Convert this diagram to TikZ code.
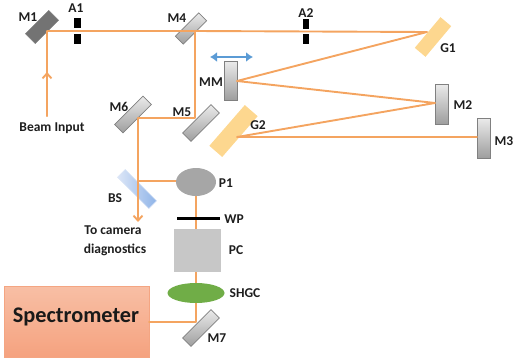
\documentclass[tikz,border=0pt]{standalone}
\usepackage{fontspec}
\setmainfont{Carlito}
\usetikzlibrary{arrows.meta,calc,shapes.geometric}
\definecolor{beam}{HTML}{F4A460}
\definecolor{txt}{HTML}{1E1E1E}
\definecolor{gratingc}{HTML}{FDD78F}
\definecolor{shgc}{HTML}{70AD47}
\definecolor{specb}{HTML}{F4A582}
\definecolor{spect}{HTML}{F8BFA5}
\definecolor{specd}{HTML}{F5A27F}
\definecolor{moveb}{HTML}{5B9BD5}
\definecolor{bsl}{HTML}{DCE6F7}
\definecolor{bsd}{HTML}{8FB4E8}
\tikzset{
  px/.style={x=1pt,y=-1pt},
  lab/.style={font=\fontsize{13.5}{15}\selectfont\bfseries,text=txt,inner sep=0pt,align=center},
  mirror/.style={draw=black!50,line width=0.7pt,top color=black!8,bottom color=black!38,inner sep=0pt,outer sep=0pt},
  grating/.style={fill=gratingc,draw=none,inner sep=0pt,outer sep=0pt},
  stopper/.style={fill=black,draw=none,inner sep=0pt,minimum width=6.5pt,minimum height=10pt},
  ray/.style={draw=beam,line width=1.9pt,line cap=round,line join=round},
  rayarrow/.style={ray,-{Straight Barb[length=5pt,width=9pt,line width=1.9pt]}},
}
\begin{document}
\begin{tikzpicture}[px]
\useasboundingbox (0,0) rectangle (514,359);
% optical elements under the beam
\node[rotate=-45,inner sep=0pt,draw=black!50,fill=black!55,minimum width=14pt,minimum height=33pt] (M1) at (42,27) {};
\node[mirror,rotate=45,minimum width=33pt,minimum height=11pt] (M4) at (191,28.5) {};
\node[mirror,rotate=45,minimum width=40pt,minimum height=12pt] (M6) at (133,114.5) {};
\node[mirror,rotate=45,minimum width=40pt,minimum height=12pt] (M5) at (201,123) {};
\node[mirror,rotate=45,minimum width=40pt,minimum height=12pt] (M7) at (201,328) {};
\node[mirror,minimum width=13pt,minimum height=39pt] (MM) at (230.5,80.5) {};
\node[mirror,minimum width=13pt,minimum height=40pt] (M2) at (442,104) {};
\node[mirror,minimum width=13pt,minimum height=40pt] (M3) at (483.5,138) {};
\node[grating,rotate=50,minimum width=40pt,minimum height=14pt] (G1) at (433,37) {};
\node[grating,rotate=49,minimum width=54pt,minimum height=17pt] (G2) at (233.5,131) {};
\node[rotate=-45,draw=bsl,line width=0.4pt,inner sep=0pt,minimum width=44.5pt,minimum height=11pt,left color=bsl,right color=bsd] (BS) at (137,189) {};
\node[draw=specb,line width=0.8pt,top color=spect,bottom color=specd,minimum width=145pt,minimum height=71pt,inner sep=0pt] (Spec) at (76.5,321.5) {};
\node[font=\fontsize{22.3}{26}\selectfont\bfseries,text=black!90,inner sep=0pt] (SpecT) at (76,317) {Spectrometer};
% beam points
\coordinate (inS) at (47,116);
\coordinate (inA) at (47,72);
\coordinate (pM1) at (47,31);
\coordinate (pM4) at (195,31);
\coordinate (pG1) at (427,32);
\coordinate (pMM) at (237,81);
\coordinate (pM2) at (435,103);
\coordinate (pG2) at (237,137);
\coordinate (pM3) at (477,137);
\coordinate (pM5) at (195,118);
\coordinate (pM6) at (138,118);
\coordinate (pBS) at (138,181);
\coordinate (pP1) at (177,181);
\coordinate (pOut) at (138,222);
\coordinate (pP1b) at (196,196);
\coordinate (pM7) at (196,322);
\coordinate (pSp) at (149,322);
\coordinate (bl) at (210,57);
\coordinate (br) at (253,57);
\coordinate (WPa) at (177,218.5);
\coordinate (WPb) at (220,218.5);
% beams
\draw[ray] (inS) -- (pM1) -- (pM4) -- (pG1) -- (pMM) -- (pM2) -- (pG2) -- (pM3);
\draw[rayarrow] (inS) -- (inA);
\draw[ray] (pM4) -- (pM5) -- (pM6) -- (pBS);
\draw[rayarrow] (pBS) -- (pOut);
\draw[ray] (pBS) -- (pP1);
\draw[ray] (pP1b) -- (pM7) -- (pSp);
% elements above the beam
\node[stopper] (A1a) at (77.5,23) {};
\node[stopper] (A1b) at (77.5,39) {};
\node[stopper] (A2a) at (306,24) {};
\node[stopper] (A2b) at (306,39) {};
\node[ellipse,fill=black!35,inner sep=0pt,minimum width=40pt,minimum height=28pt] (P1) at (196,182) {};
\node[fill=black!22,inner sep=0pt,minimum width=47pt,minimum height=43pt] (PC) at (197.5,250.5) {};
\node[ellipse,fill=shgc,inner sep=0pt,minimum width=57pt,minimum height=20pt] (SHGC) at (196,293) {};
\draw[black,line width=2.6pt] (WPa) -- (WPb);
\draw[{Latex[length=7pt,width=10pt]}-{Latex[length=7pt,width=10pt]},draw=moveb,fill=moveb,line width=2pt] (bl) -- (br);
% labels
\node[lab] (lM1) at (28,17) {M1};
\node[lab] (lA1) at (76,8.5) {A1};
\node[lab] (lM4) at (177,18) {M4};
\node[lab] (lA2) at (306,13) {A2};
\node[lab] (lG1) at (448,48) {G1};
\node[lab] (lMM) at (211,82) {MM};
\node[lab] (lM6) at (119,107) {M6};
\node[lab] (lM5) at (182,112) {M5};
\node[lab] (lG2) at (258,125.5) {G2};
\node[lab] (lM2) at (463,105) {M2};
\node[lab] (lM3) at (504,141) {M3};
\node[lab] (lBI) at (52,128) {Beam Input};
\node[lab] (lBS) at (115,198) {BS};
\node[lab] (lP1) at (226,183.5) {P1};
\node[lab] (lWP) at (234,219) {WP};
\node[lab] (lPC) at (236,250) {PC};
\node[lab] (lSH) at (245,293.5) {SHGC};
\node[lab] (lM7) at (217,338) {M7};
\node[lab] (lTo) at (113,230) {To camera};
\node[lab] (lDi) at (115,250) {diagnostics};
\end{tikzpicture}
\end{document}
